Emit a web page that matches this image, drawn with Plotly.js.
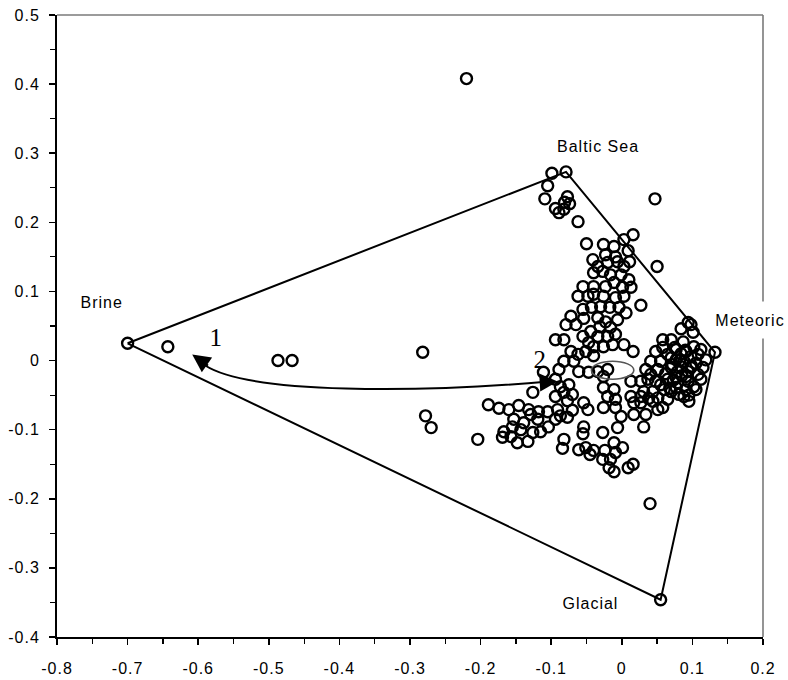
<!DOCTYPE html>
<html>
<head>
<meta charset="utf-8">
<script src="https://cdn.plot.ly/plotly-3.0.1.min.js"></script>
<style>
  html, body { margin: 0; padding: 0; background: #fff; }
  #chart { width: 788px; height: 680px; }
  #chart .main-svg text { letter-spacing: 1px; }
</style>
</head>
<body>
<div id="chart"></div>
<script>
// End-member compositions (corners of the mixing polygon)
const endmemberNames = ['Brine', 'Baltic Sea', 'Meteoric', 'Glacial'];
const endmemberX = [-0.700, -0.079, 0.132, 0.055];
const endmemberY = [0.025, 0.273, 0.012, -0.346];

// Groundwater samples (principal component scores)
const sampleX = [
  -0.643, -0.487, -0.467, -0.282, -0.278, -0.270, -0.204, -0.220, 0.047, 0.050, 0.027, 0.040,
  -0.099, -0.105, -0.109, -0.077, -0.081, -0.094, -0.089, -0.082, -0.074, -0.062, -0.050, -0.041, -0.034,
  0.016, 0.003, 0.009, 0.011, -0.026, -0.011, -0.023, -0.009, -0.020, -0.006, 0.003,
  -0.040, -0.027, -0.016, -0.001, 0.010,
  -0.055, -0.040, -0.023, -0.011, 0.001, 0.013,
  -0.062, -0.048, -0.040, -0.026, -0.009, 0.003,
  -0.055, -0.043, -0.030, -0.017, -0.004, 0.006,
  -0.072, -0.054, -0.034, -0.023, -0.006,
  -0.079, -0.065, -0.044, -0.031, -0.016,
  -0.094, -0.082, -0.055, -0.034, -0.047, -0.020, -0.009,
  -0.040, -0.026, -0.013, 0.003, 0.016,
  -0.072, -0.062, -0.051, -0.040,
  -0.082, -0.089, -0.068, -0.061, -0.047, -0.034, -0.111,
  -0.026, -0.020,
  -0.094, -0.087, -0.075, -0.082, -0.070, -0.094, -0.077, -0.126,
  -0.026, -0.020, -0.011, -0.009, -0.026, -0.009,
  0.013, 0.013, 0.027,
  -0.001, 0.017, 0.034, 0.051,
  -0.054, -0.091, -0.077, -0.070, -0.048,
  -0.189, -0.174, -0.160, -0.146, -0.132, -0.118, -0.105, -0.129,
  -0.167, -0.155, -0.143, -0.139, -0.126, -0.115, -0.104, -0.094, -0.087,
  -0.169, -0.157, -0.148, -0.133, -0.153, -0.119,
  -0.082, -0.084, -0.061, -0.051, -0.054, -0.055, -0.040, -0.045, -0.027, -0.027,
  -0.011, 0.001, -0.009, -0.016, -0.018, -0.011, 0.009, 0.016, -0.006, 0.017, 0.031, 0.044, -0.024,
  0.094, 0.084, 0.101, 0.070, 0.087, 0.058, 0.075, 0.102, 0.048, 0.065, 0.084, 0.098,
  0.041, 0.055, 0.072, 0.088, 0.105, 0.115, 0.034, 0.051, 0.062, 0.079, 0.094, 0.108,
  0.037, 0.048, 0.065, 0.079, 0.094, 0.112, 0.044, 0.060, 0.077, 0.091, 0.102,
  0.051, 0.065, 0.081, 0.031, 0.038, 0.058, 0.027, 0.027, 0.077,
  0.070, 0.085, 0.068, 0.090, 0.095, 0.082, 0.099, 0.073,
  0.077, 0.091, 0.108, 0.070, 0.084, 0.098, 0.077, 0.091, 0.105, 0.088,
  0.070, 0.055, 0.041, 0.112, 0.119, 0.058, 0.098, 0.095
];
const sampleY = [
  0.020, 0.000, 0.000, 0.012, -0.080, -0.097, -0.114, 0.408, 0.234, 0.136, 0.080, -0.207,
  0.271, 0.253, 0.234, 0.237, 0.229, 0.220, 0.214, 0.219, 0.227, 0.201, 0.169, 0.146, 0.136,
  0.182, 0.175, 0.159, 0.143, 0.168, 0.165, 0.153, 0.150, 0.142, 0.143, 0.136,
  0.127, 0.129, 0.124, 0.124, 0.117,
  0.107, 0.107, 0.107, 0.113, 0.106, 0.106,
  0.093, 0.093, 0.096, 0.093, 0.091, 0.093,
  0.074, 0.077, 0.078, 0.077, 0.077, 0.069,
  0.064, 0.061, 0.062, 0.056, 0.059,
  0.052, 0.052, 0.042, 0.049, 0.048,
  0.030, 0.030, 0.035, 0.035, 0.026, 0.035, 0.038,
  0.020, 0.020, 0.023, 0.023, 0.013,
  0.013, 0.009, 0.013, 0.007,
  -0.001, -0.013, -0.001, -0.016, -0.017, -0.016, -0.017,
  -0.023, -0.013,
  -0.027, -0.038, -0.035, -0.046, -0.049, -0.052, -0.058, -0.046,
  -0.039, -0.052, -0.042, -0.056, -0.068, -0.068,
  -0.030, -0.052, -0.052,
  -0.081, -0.078, -0.078, -0.071,
  -0.061, -0.071, -0.082, -0.072, -0.071,
  -0.064, -0.069, -0.071, -0.065, -0.071, -0.074, -0.074, -0.078,
  -0.103, -0.096, -0.100, -0.090, -0.104, -0.103, -0.096, -0.085, -0.080,
  -0.111, -0.110, -0.119, -0.117, -0.085, -0.085,
  -0.114, -0.127, -0.129, -0.126, -0.096, -0.106, -0.130, -0.136, -0.143, -0.104,
  -0.119, -0.126, -0.133, -0.143, -0.155, -0.161, -0.155, -0.150, -0.097, -0.061, -0.096, -0.059, -0.130,
  0.055, 0.046, 0.041, 0.030, 0.027, 0.019, 0.019, 0.020, 0.013, 0.009, 0.010, 0.006,
  -0.001, -0.001, -0.006, -0.001, -0.004, -0.010, -0.013, -0.013, -0.019, -0.016, -0.016, -0.020,
  -0.027, -0.030, -0.027, -0.032, -0.030, -0.027, -0.045, -0.042, -0.039, -0.042, -0.038,
  -0.054, -0.056, -0.049, -0.045, -0.055, -0.068, -0.061, -0.030, 0.001,
  -0.010, -0.022, -0.040, 0.015, -0.050, 0.000, -0.008, -0.028,
  0.016, 0.013, 0.009, 0.004, -0.009, -0.010, -0.025, -0.023, -0.042, -0.052,
  -0.045, -0.035, -0.020, 0.016, 0.001, 0.030, 0.052, -0.059
];

// Axis ticks
const xTickVals = [-0.8, -0.7, -0.6, -0.5, -0.4, -0.3, -0.2, -0.1, 0, 0.1, 0.2];
const xTickText = ['-0.8', '-0.7', '-0.6', '-0.5', '-0.4', '-0.3', '-0.2', '-0.1', '0', '0.1', '0.2'];
const yTickVals = [-0.4, -0.3, -0.2, -0.1, 0, 0.1, 0.2, 0.3, 0.4, 0.5];
const yTickText = ['-0.4', '-0.3', '-0.2', '-0.1', '0', '0.1', '0.2', '0.3', '0.4', '0.5'];

// Evolution path between stage 1 and stage 2 (cubic curve, data units)
const pathX = [-0.1035, -0.285, -0.526, -0.590];
const pathY = [-0.0304, -0.0463, -0.0492, -0.0072];
const headTipX = [-0.6085, -0.0908];
const headTipY = [0.0087, -0.0304];
const headTailX = [-0.584, -0.1149];
const headTailY = [-0.0087, -0.0318];
const stageLabels = ['1', '2'];
const stageX = [-0.574, -0.115];
const stageY = [0.033, 0.0014];

// Uncertainty ellipse around the stage-2 centre
const ellipseX = [-0.043, 0.017];
const ellipseY = [-0.027, -0.001];

// End-member label placement
const labelX = [-0.7376, -0.034, 0.1816, -0.044];
const labelY = [0.0839, 0.310, 0.0593, -0.352];

const FONT = 'Liberation Sans, Arial, sans-serif';

const polygon = {
  x: endmemberX.concat([endmemberX[0]]),
  y: endmemberY.concat([endmemberY[0]]),
  mode: 'lines',
  type: 'scatter',
  line: { color: '#000', width: 2 },
  hoverinfo: 'skip',
  showlegend: false
};

const markerStyle = {
  symbol: 'circle-open',
  size: 11,
  color: '#000',
  line: { width: 2.4, color: '#000' }
};

const samples = {
  x: sampleX, y: sampleY,
  mode: 'markers', type: 'scatter',
  marker: markerStyle,
  showlegend: false
};

const endmembers = {
  x: endmemberX, y: endmemberY,
  text: endmemberNames,
  mode: 'markers', type: 'scatter',
  marker: markerStyle,
  showlegend: false
};

const annotations = [];
endmemberNames.forEach((name, i) => {
  const a = {
    x: labelX[i], y: labelY[i], xref: 'x', yref: 'y',
    text: name, showarrow: false,
    font: { family: FONT, size: 16, color: '#000' }
  };
  if (name === 'Meteoric') {
    a.bgcolor = '#fff';
    a.width = 76;
    a.height = 34;
  }
  annotations.push(a);
});
stageLabels.forEach((t, i) => {
  annotations.push({
    x: stageX[i], y: stageY[i], xref: 'x', yref: 'y',
    text: t, showarrow: false,
    font: { family: 'Liberation Serif, Times New Roman, serif', size: 25, color: '#000' }
  });
});
headTipX.forEach((hx, i) => {
  annotations.push({
    x: hx, y: headTipY[i], xref: 'x', yref: 'y',
    ax: headTailX[i], ay: headTailY[i], axref: 'x', ayref: 'y',
    text: '', showarrow: true,
    arrowhead: 2, arrowsize: 1.8, arrowwidth: 2, arrowcolor: '#000',
    standoff: 0, startstandoff: 0
  });
});

const shapes = [
  {
    type: 'path', xref: 'x', yref: 'y',
    path: 'M' + pathX[0] + ',' + pathY[0] +
          ' C' + pathX[1] + ',' + pathY[1] + ' ' + pathX[2] + ',' + pathY[2] + ' ' + pathX[3] + ',' + pathY[3],
    line: { color: '#000', width: 2 }
  },
  {
    type: 'circle', xref: 'x', yref: 'y',
    x0: ellipseX[0], x1: ellipseX[1], y0: ellipseY[0], y1: ellipseY[1],
    line: { color: '#555', width: 1.6 }
  },
  // frame: top and right edges
  { type: 'line', xref: 'paper', yref: 'paper', x0: 0, x1: 1, y0: 1, y1: 1,
    line: { color: '#7a7a7a', width: 1.6 } },
  { type: 'line', xref: 'paper', yref: 'paper', x0: 1, x1: 1, y0: 0, y1: 1,
    line: { color: '#7a7a7a', width: 1.6 } }
];

const axisCommon = {
  showgrid: false,
  zeroline: false,
  showline: true,
  linecolor: '#000',
  linewidth: 2,
  ticks: 'outside',
  ticklen: 6,
  tickwidth: 1.5,
  tickcolor: '#000',
  tickmode: 'array',
  tickfont: { family: FONT, size: 16, color: '#000' },
  fixedrange: true
};

const layout = {
  width: 788,
  height: 680,
  margin: { l: 57, r: 25, t: 15, b: 43 },
  paper_bgcolor: '#fff',
  plot_bgcolor: '#fff',
  showlegend: false,
  xaxis: Object.assign({}, axisCommon, {
    range: [-0.8, 0.2],
    tickvals: xTickVals,
    ticktext: xTickText,
    ticklabelstandoff: 10,
    minor: { ticks: 'outside', tickmode: 'linear', tick0: 0, dtick: 0.05, ticklen: 5, tickwidth: 1.2, tickcolor: '#000' }
  }),
  yaxis: Object.assign({}, axisCommon, {
    range: [-0.4, 0.5],
    tickvals: yTickVals,
    ticktext: yTickText,
    ticklabelstandoff: 6,
    minor: { ticks: 'outside', tickmode: 'linear', tick0: 0, dtick: 0.05, ticklen: 5, tickwidth: 1.2, tickcolor: '#000' }
  }),
  shapes: shapes,
  annotations: annotations
};

Plotly.newPlot('chart', [polygon, samples, endmembers], layout, { displayModeBar: false, staticPlot: true });
</script>
</body>
</html>
